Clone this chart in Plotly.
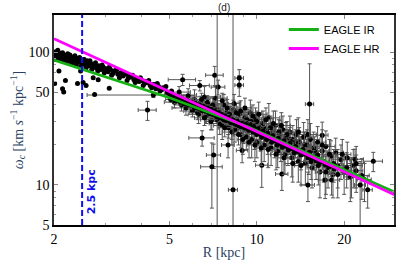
import plotly.graph_objects as go
import math

# ---- data ----
band_R = [2.00, 2.01, 2.03, 2.04, 2.06, 2.08, 2.10, 2.12, 2.14, 2.16, 2.18, 2.21, 2.23, 2.25, 2.28, 2.30,
          2.33, 2.36, 2.39, 2.42, 2.45, 2.48, 2.51, 2.54, 2.58, 2.62, 2.66, 2.70, 2.74, 2.78, 2.83, 2.88,
          2.93, 2.98, 3.04, 3.10, 3.16, 3.22, 3.29, 3.36, 3.43, 3.50, 3.57, 3.65, 3.73, 3.81, 3.89, 3.97,
          4.06, 4.15, 4.24, 4.34, 4.44, 4.54, 4.64, 4.75, 4.86, 4.97, 5.08]
band_w = [100, 92, 88, 97, 103, 90, 95, 86, 99, 89, 94, 84, 97, 88, 92, 82,
          89, 94, 80, 87, 91, 78, 85, 88, 76, 83, 86, 74, 80, 83, 72, 78,
          80, 70, 75, 77, 67, 72, 74, 64, 69, 70, 61, 66, 67, 59, 63, 64,
          56, 60, 61, 54, 57, 58, 51, 54, 55, 49, 51]

band2_R = [2.02, 2.05, 2.07, 2.09, 2.11, 2.13, 2.15, 2.17, 2.20, 2.22, 2.24, 2.27, 2.29, 2.32, 2.34,
           2.37, 2.40, 2.43, 2.46, 2.49, 2.53, 2.56, 2.60, 2.64, 2.68, 2.72, 2.76, 2.80, 2.85, 2.90,
           2.96, 3.01, 3.07, 3.13, 3.19, 3.25, 3.32, 3.39, 3.46, 3.54, 3.61, 3.69, 3.77, 3.85, 3.93,
           4.02, 4.10, 4.19, 4.29, 4.39, 4.49, 4.59, 4.70, 4.80, 4.91, 5.02]
band2_w = [96, 101, 93, 88, 98, 92, 87, 95, 90, 93, 86, 95, 89, 84, 91,
           86, 90, 84, 87, 82, 88, 81, 86, 79, 82, 78, 81, 76, 79, 74,
           77, 73, 71, 74, 69, 72, 68, 70, 66, 68, 64, 65, 62, 63, 60,
           61, 58, 59, 56, 57, 53, 55, 52, 53, 50, 48]

low_R = [2.01, 2.08, 2.14, 2.16, 2.19, 2.41, 2.47, 2.52, 2.58, 2.73, 2.76, 2.84, 3.10]
low_w = [58, 72, 53, 50, 61, 58, 72, 59, 56, 64, 48, 62, 53.5]

core_R = [5.05, 5.15, 5.25, 5.35, 5.45, 5.55, 5.65, 5.75, 5.85, 5.95, 6.05, 6.15, 6.25, 6.35, 6.45,
          6.55, 6.65, 6.75, 6.85, 6.95, 7.05, 7.15, 7.25, 7.35, 7.45, 7.55, 7.65, 7.75, 7.85, 7.95,
          8.1, 8.25, 8.4, 8.55, 8.7, 8.85, 9.0, 9.15, 9.3, 9.45, 9.6, 9.75, 9.9, 10.1, 10.3, 10.5,
          10.7, 10.9, 11.1, 11.35, 11.6, 11.85, 12.1, 12.4, 12.7, 13.0, 13.3, 13.6, 14.0, 14.4,
          14.8, 15.2, 15.7, 16.2]
core_w = [44, 46, 43, 45, 42, 44, 41, 43, 40, 42, 39, 41, 38, 40, 37,
          39, 36, 38, 35, 37, 34, 36, 33, 35, 32, 34, 31.5, 33, 30.5, 32,
          30, 31, 29, 30, 28, 29, 27.5, 28.5, 26.5, 28, 26, 27.5, 25.5, 26.5, 24.5, 25.5,
          23.5, 24.5, 22.5, 23.5, 21.5, 22.5, 20.5, 21.5, 19.5, 20.5, 18.7, 19.5, 17.8, 18.5,
          17, 17.6, 16.2, 16.8]

core2_R = [5.1, 5.3, 5.5, 5.7, 5.9, 6.1, 6.3, 6.5, 6.7, 6.9, 7.1, 7.3, 7.5, 7.7, 7.9, 8.15, 8.35,
           8.5, 8.65, 8.8, 8.95, 9.1, 9.25, 9.4, 9.55, 9.7, 9.85, 10.0, 10.2, 10.4, 10.6, 10.8,
           11.0, 11.25, 11.5, 11.75, 12.0, 12.25, 12.55, 12.85, 13.15, 13.45, 13.8, 14.2, 14.6,
           15.0, 15.5, 16.0, 16.6, 17.2, 17.8, 18.5]
core2_w = [45.5, 43, 42.5, 40.5, 40.5, 38, 38, 36, 36, 34.5, 34, 32.5, 32.5, 31, 31, 29.5, 30,
           28.5, 29.2, 27.5, 28.2, 26.8, 27.2, 25.8, 26.5, 25, 25.7, 24, 24.8, 23, 23.8, 22,
           22.8, 21, 21.8, 20, 20.8, 19.2, 19.8, 18.3, 18.9, 17.5, 18, 16.8, 17.2,
           16, 15.8, 15.2, 14.8, 14.2, 13.8, 13.2]

cloud_R = [5.1, 5.2, 5.3, 5.4, 5.5, 5.55, 5.6, 5.7, 5.8, 5.9, 6.0, 6.1, 6.2, 6.3, 6.36, 6.4, 6.48,
           6.5, 6.6, 6.7, 6.8, 6.9, 7.0, 7.0, 7.1, 7.1, 7.16, 7.2, 7.36, 7.4, 7.5, 7.6, 7.7, 7.8,
           7.9, 7.96, 8.0, 8.1, 8.2, 8.3, 8.4, 8.5, 8.6, 8.7, 8.7, 8.7, 8.8, 8.9, 8.9, 9.0, 9.1,
           9.2, 9.3, 9.4, 9.5, 9.6, 9.7, 9.8, 9.9, 10.0, 10.2, 10.3, 10.4, 10.5, 10.6, 10.8, 10.9,
           11.0, 11.2, 11.3, 11.5, 11.6, 11.8, 12.0, 12.1, 12.2, 12.3, 12.5, 12.6, 12.8, 13.0, 13.2,
           13.3, 13.5, 13.7, 13.9, 14.0, 14.2, 14.5, 14.7, 14.9, 15.0, 15.1, 15.3, 15.5, 15.7, 16.0,
           16.2, 16.5, 16.8, 16.8, 17.0, 17.2, 17.3, 17.6, 18.0, 18.1, 18.3, 18.7, 19.0, 19.5, 20.0,
           20.5, 21.0, 21.5, 21.8, 22.0, 23.5, 24.1, 25.2, 4.2, 4.4]
cloud_w = [48, 42, 46, 50, 40, 62, 44, 38, 47, 41, 36, 44, 39, 34, 56, 42, 22.6,
           37, 46, 33, 40, 35, 13.7, 31, 16.8, 38, 67, 45, 54.5, 36, 33, 28, 40, 31,
           35, 20, 27, 33, 29, 37, 26, 31, 28, 63.7, 56.4, 34, 24, 18.2, 30, 27, 32,
           23, 29, 26, 35, 22, 28, 25, 31, 21, 27, 24, 14.1, 29, 20, 26, 23,
           32, 19, 25, 22, 28, 18, 24, 21, 12.1, 26, 17, 23, 20, 25, 16,
           22, 19, 24, 15, 21, 18, 23, 14.5, 20, 10.0, 17, 22, 13.5, 19, 16,
           21, 12.5, 23.7, 18, 15, 10.9, 19.5, 13.5, 16.5, 10.9, 12, 17.5, 14, 15.5, 12.5,
           16, 11.5, 14, 15.6, 12.8, 11, 9.2, 15.1, 36.6, 47.5]
cloud_xe = [0.3, 0.4, 0.2, 0.5, 0.3, 0.6, 0.4, 0.6, 0.3, 0.5, 0.4, 0.8, 0.3, 0.5, 0.5, 0.4, 0.65,
            0.6, 0.9, 0.4, 0.5, 0.3, 0.6, 0.6, 0.4, 0.4, 0.5, 0.7, 0.4, 0.4, 0.6, 0.5, 0.8, 0.3,
            0.5, 0.4, 0.6, 0.4, 0.7, 0.5, 0.4, 0.6, 0.3, 0.3, 0.3, 0.8, 0.5, 0.4, 0.4, 0.6, 0.7,
            0.4, 0.5, 0.3, 0.9, 0.6, 0.4, 0.7, 0.5, 0.6, 0.8, 0.4, 0.5, 0.6, 0.5, 0.7, 0.4,
            1.0, 0.6, 0.5, 0.8, 0.6, 0.5, 0.9, 0.4, 0.6, 0.7, 0.6, 0.5, 0.8, 1.1, 0.6,
            0.7, 0.5, 0.9, 0.6, 0.8, 0.5, 1.0, 0.7, 0.6, 0.8, 0.9, 1.2, 0.6, 0.8, 0.7,
            1.1, 0.6, 0.8, 0.9, 0.7, 0.9, 1.3, 0.8, 1.0, 1.2, 0.7, 1.2, 0.9, 1.4, 1.0,
            1.5, 1.1, 1.6, 1.5, 1.2, 1.3, 0.9, 1.9, 0.3, 1.8]
cloud_ye = [3.5, 4, 2.5, 5, 4, 6, 3.5, 4.5, 6, 4, 3.5, 8, 4, 5, 5, 4.5, 3,
            4, 9, 4, 6, 4.5, 7, 5, 3.5, 6.5, 11, 10, 7, 5, 4.5, 6, 8, 5,
            6.5, 4, 4.5, 6, 7, 6.5, 5, 6, 4.5, 10, 10, 8, 5, 3.5, 6, 6.5, 7,
            4.5, 6, 5, 8.5, 6, 5, 6.5, 7, 5, 6.5, 6, 4.5, 7, 5, 6.5, 6,
            9, 5, 6.5, 6, 8, 4.5, 6.5, 6, 3, 7, 5, 6.5, 6, 8, 4.5,
            6, 5, 7, 4.5, 6, 5, 6.5, 4.5, 6, 2.5, 5, 7, 4, 6, 5,
            6.5, 4.5, 6, 5, 4.5, 3, 6, 4, 5, 2.5, 4, 5, 4.5, 4.5, 4,
            5, 4, 4.5, 3, 4, 3.5, 2.5, 2.5, 6, 2]

cloud2_R = [6.05, 6.25, 6.45, 6.6, 6.75, 6.95, 7.05, 7.25, 7.45, 7.6, 7.75, 7.9, 8.05, 8.2, 8.35,
            8.5, 8.65, 8.8, 8.95, 9.1, 9.25, 9.4, 9.55, 9.7, 9.85, 10.0, 10.15, 10.35, 10.55, 10.75,
            10.95, 11.15, 11.4, 11.65, 11.9, 12.15, 12.4, 12.7, 13.0, 13.3, 13.6, 13.9, 14.2, 14.6,
            15.0, 15.4, 15.8, 16.3, 16.8, 17.3, 17.8, 18.4, 19.0, 19.7, 20.4, 21.2, 22.0, 23.0]
cloud2_w = [41, 35, 44, 32, 42, 30, 40, 37, 29, 43, 27, 38, 34, 25, 41,
            35, 24, 36, 22, 38, 31, 21, 30, 33, 20, 30, 34, 19, 27, 31,
            18.5, 27, 29, 17, 25, 28, 16, 24, 22, 14.5, 21, 25, 14, 20,
            24, 15, 18, 14, 20, 12.5, 17, 14.5, 12, 17, 13.5, 12, 14.5, 11.8]
cloud2_xe = [0.3, 0.4, 0.3, 0.5, 0.4, 0.3, 0.5, 0.4, 0.6, 0.3, 0.4, 0.5, 0.3, 0.6, 0.4,
             0.5, 0.3, 0.6, 0.4, 0.5, 0.3, 0.6, 0.4, 0.5, 0.6, 0.4, 0.7, 0.5, 0.6, 0.4,
             0.7, 0.5, 0.8, 0.5, 0.6, 0.9, 0.6, 0.7, 0.5, 0.8, 0.6, 1.0, 0.7, 0.8,
             1.1, 0.7, 0.9, 0.8, 1.1, 0.9, 1.0, 1.2, 1.0, 1.4, 1.2, 1.3, 1.5, 1.4]
cloud2_ye = [4, 4, 5, 4, 5, 4, 6, 5, 5, 6, 4, 6, 5, 5, 7,
             6, 4, 7, 5, 7, 6, 5, 6, 7, 5, 6, 8, 5, 6, 7,
             5, 6, 7, 4, 6, 7, 4, 6, 5, 4, 5, 7, 4, 5,
             7, 4, 5, 4, 6, 4, 5, 4, 4, 5, 4, 4, 5, 4]

big_R = [7.3, 8.28, 15.2, 22.7]
big_w = [31, 9.2, 40.6, 10.0]
big_xe = [0.5, 0.3, 0.5, 1.0]
big_up = [170, 190, 41, 5]
big_dn = [30.9, 9.1, 18, 9.9]

ir_R = [2, 3, 5, 7, 9.4, 14, 20, 30]
ir_w = [87, 65, 45.3, 34.5, 27.2, 18.4, 13.1, 8.8]
hr_R = [2, 5, 10, 20, 30]
hr_w = [126, 50.5, 25.3, 12.6, 8.4]

cut_R = 2.5
x_ticks = [2, 5, 10, 20]
y_ticks = [5, 10, 50, 100]
x_range = [2, 29.7]
y_range = [5, 190]

# ---- figure ----
ebar = dict(color="#555555", thickness=1, width=2)
mk = dict(color="black", size=5)

fig = go.Figure()
fig.add_trace(go.Scatter(x=cloud_R, y=cloud_w, mode="markers", marker=mk, showlegend=False,
                         error_x=dict(type="data", array=cloud_xe, **ebar),
                         error_y=dict(type="data", array=cloud_ye, **ebar)))
fig.add_trace(go.Scatter(x=cloud2_R, y=cloud2_w, mode="markers", marker=mk, showlegend=False,
                         error_x=dict(type="data", array=cloud2_xe, **ebar),
                         error_y=dict(type="data", array=cloud2_ye, **ebar)))
fig.add_trace(go.Scatter(x=big_R, y=big_w, mode="markers", marker=mk, showlegend=False,
                         error_x=dict(type="data", array=big_xe, **ebar),
                         error_y=dict(type="data", symmetric=False, array=big_up, arrayminus=big_dn, **ebar)))
fig.add_trace(go.Scatter(x=core_R, y=core_w, mode="markers", marker=mk, showlegend=False,
                         error_x=dict(type="constant", value=0.2, **ebar),
                         error_y=dict(type="constant", value=2, **ebar)))
fig.add_trace(go.Scatter(x=core2_R, y=core2_w, mode="markers", marker=mk, showlegend=False))
fig.add_trace(go.Scatter(x=band_R, y=band_w, mode="markers", marker=mk, showlegend=False))
fig.add_trace(go.Scatter(x=band2_R, y=band2_w, mode="markers", marker=mk, showlegend=False))
fig.add_trace(go.Scatter(x=low_R, y=low_w, mode="markers", marker=mk, showlegend=False))
fig.add_trace(go.Scatter(x=ir_R, y=ir_w, mode="lines", name="EAGLE IR",
                         line=dict(color="#14b014", width=2.8)))
fig.add_trace(go.Scatter(x=hr_R, y=hr_w, mode="lines", name="EAGLE HR",
                         line=dict(color="#ff00ff", width=2.8)))

fig.add_shape(type="line", xref="x", yref="paper", x0=cut_R, x1=cut_R, y0=0, y1=1,
              line=dict(color="#1010ee", width=2, dash="6px,3px"))
fig.add_annotation(x=math.log10(cut_R), xref="x", y=math.log10(8.9), yref="y", text="<b>2.5 kpc</b>",
                   textangle=-90, showarrow=False, xanchor="left", yanchor="middle", xshift=1,
                   font=dict(family="DejaVu Sans", size=11, color="#1010ee"))
fig.add_annotation(x=0.5, xref="paper", y=1, yref="paper", text="(d)", showarrow=False,
                   yanchor="bottom", yshift=0, font=dict(family="Liberation Sans", size=10, color="#222"))

minor_x = [3, 4, 6, 7, 8, 9]
minor_y = [6, 7, 8, 9, 20, 30, 40, 60, 70, 80, 90]
axis_common = dict(type="log", showgrid=False, zeroline=False, showline=True, mirror="allticks",
                   ticks="inside", ticklen=4, tickcolor="#888", linewidth=1.5, automargin=False,
                   tickfont=dict(family="Liberation Serif", size=14, color="black"))
fig.update_xaxes(**axis_common, range=[math.log10(x_range[0]), math.log10(x_range[1])],
                 tickvals=x_ticks, ticktext=[str(v) for v in x_ticks], linecolor="black",
                 minor=dict(tickvals=minor_x, ticks="inside", ticklen=2, tickcolor="#999"),
                 title=dict(text="R [kpc]", font=dict(family="Liberation Serif", size=14), standoff=2))
fig.update_yaxes(**axis_common, range=[math.log10(y_range[0]), math.log10(y_range[1])],
                 tickvals=y_ticks, ticktext=[str(v) for v in y_ticks], linecolor="#333",
                 minor=dict(tickvals=minor_y, ticks="inside", ticklen=2, tickcolor="#999"),
                 title=dict(text="<i>ω</i><sub><i>c</i></sub> [km <i>s</i><sup>−1</sup> kpc<sup>−1</sup>]",
                            font=dict(family="Liberation Serif", size=14), standoff=2))
fig.update_layout(width=399, height=268, margin=dict(l=54, r=5, t=15, b=43),
                  paper_bgcolor="white", plot_bgcolor="white",
                  legend=dict(x=0.676, y=1.0, xanchor="left", yanchor="top", bgcolor="rgba(0,0,0,0)",
                              font=dict(family="Liberation Sans", size=11, color="black"),
                              tracegroupgap=4, itemwidth=30))
# remove the browser's default 8px body margin so the figure sits at the page origin
fig.write_html("out.html", config={"displayModeBar": False},
               post_script="document.body.style.margin='0';")
